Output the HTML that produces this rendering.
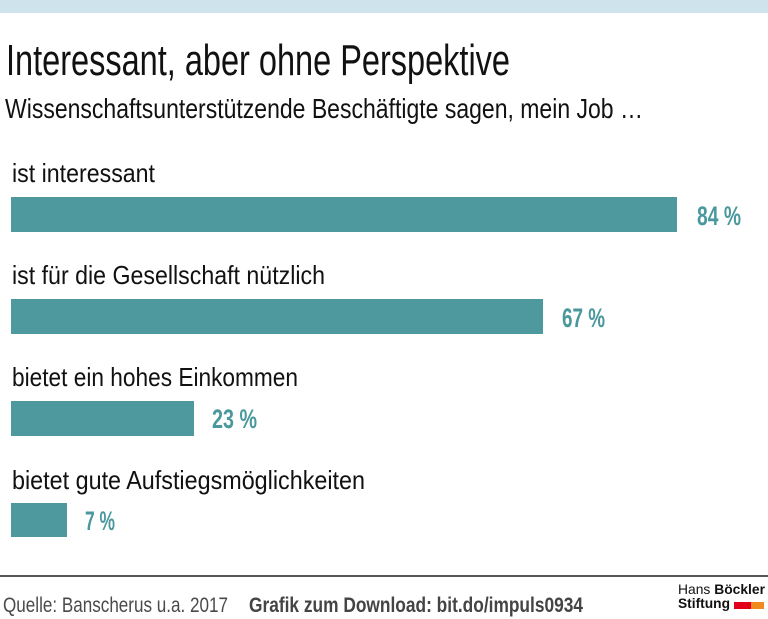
<!DOCTYPE html>
<html>
<head>
<meta charset="utf-8">
<style>
  html, body { margin: 0; padding: 0; background: #ffffff; }
  body { width: 768px; height: 619px; overflow: hidden; }
  svg { display: block; }
  text { font-family: "Liberation Sans", "DejaVu Sans", sans-serif; }
</style>
</head>
<body>
<svg width="768" height="619" viewBox="0 0 768 619" xmlns="http://www.w3.org/2000/svg">
  <rect x="0" y="0" width="768" height="619" fill="#ffffff"/>
  <!-- top band -->
  <rect x="0" y="0" width="768" height="13" fill="#cfe3ec"/>

  <!-- title -->
  <text x="6" y="75" font-size="44" fill="#111111" textLength="504" lengthAdjust="spacingAndGlyphs">Interessant, aber ohne Perspektive</text>
  <!-- subtitle -->
  <text x="5" y="118" font-size="28" fill="#111111" textLength="638" lengthAdjust="spacingAndGlyphs">Wissenschaftsunterstützende Beschäftigte sagen, mein Job …</text>

  <!-- rows -->
  <text x="12" y="182" font-size="26" fill="#111111" textLength="143" lengthAdjust="spacingAndGlyphs">ist interessant</text>
  <rect x="11" y="197" width="666" height="35" fill="#4d999e"/>
  <text x="697" y="225" font-size="27" font-weight="bold" fill="#4a989d" textLength="44" lengthAdjust="spacingAndGlyphs">84 %</text>

  <text x="12" y="284" font-size="26" fill="#111111" textLength="313" lengthAdjust="spacingAndGlyphs">ist für die Gesellschaft nützlich</text>
  <rect x="11" y="299" width="532" height="35" fill="#4d999e"/>
  <text x="562" y="327" font-size="27" font-weight="bold" fill="#4a989d" textLength="43" lengthAdjust="spacingAndGlyphs">67 %</text>

  <text x="12" y="386" font-size="26" fill="#111111" textLength="286" lengthAdjust="spacingAndGlyphs">bietet ein hohes Einkommen</text>
  <rect x="11" y="401" width="183" height="35" fill="#4d999e"/>
  <text x="212" y="428" font-size="27" font-weight="bold" fill="#4a989d" textLength="45" lengthAdjust="spacingAndGlyphs">23 %</text>

  <text x="12" y="489" font-size="26" fill="#111111" textLength="353" lengthAdjust="spacingAndGlyphs">bietet gute Aufstiegsmöglichkeiten</text>
  <rect x="11" y="503" width="56" height="34" fill="#4d999e"/>
  <text x="85" y="530" font-size="27" font-weight="bold" fill="#4a989d" textLength="30" lengthAdjust="spacingAndGlyphs">7 %</text>

  <!-- footer line -->
  <rect x="0" y="575" width="768" height="2" fill="#555555"/>

  <!-- footer text -->
  <text x="3" y="612" font-size="21" fill="#4a4a4a" textLength="225" lengthAdjust="spacingAndGlyphs">Quelle: Banscherus u.a. 2017</text>
  <text x="249" y="612" font-size="21" font-weight="bold" fill="#444444" textLength="334" lengthAdjust="spacingAndGlyphs">Grafik zum Download: bit.do/impuls0934</text>

  <!-- logo -->
  <text x="678" y="594" font-size="14" fill="#111111" textLength="87" lengthAdjust="spacingAndGlyphs">Hans <tspan font-weight="bold">Böckler</tspan></text>
  <text x="678" y="608" font-size="14" font-weight="bold" fill="#111111" textLength="52" lengthAdjust="spacingAndGlyphs">Stiftung</text>
  <rect x="734" y="602" width="17" height="7" fill="#e3001b"/>
  <rect x="751" y="602" width="13" height="7" fill="#f08a1c"/>
</svg>
</body>
</html>
